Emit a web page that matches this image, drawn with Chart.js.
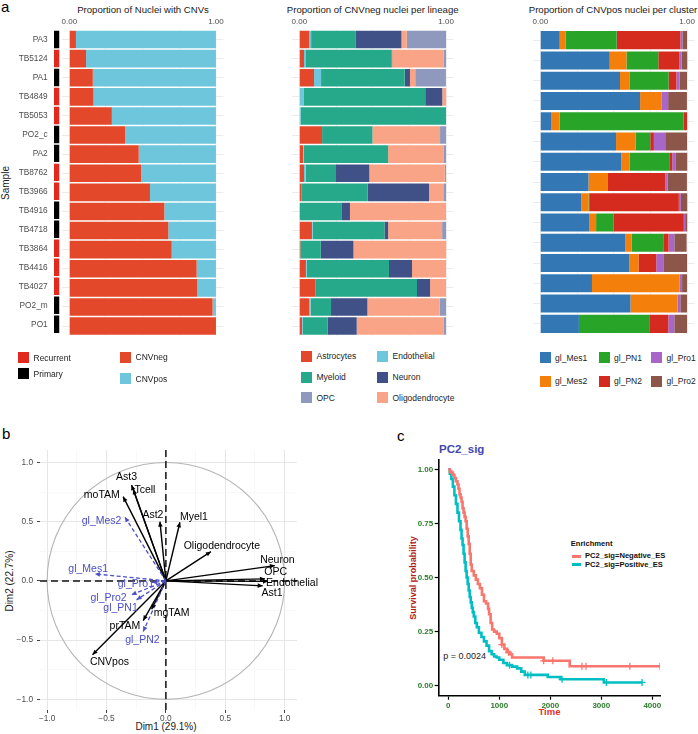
<!DOCTYPE html>
<html><head><meta charset="utf-8">
<script src="https://cdn.jsdelivr.net/npm/chart.js@4.4.1/dist/chart.umd.min.js"></script>
<style>
html,body{margin:0;padding:0;background:#fff;}
body{width:698px;height:734px;position:relative;overflow:hidden;font-family:"Liberation Sans",Arial,Helvetica,sans-serif;}
canvas{position:absolute;}
.t{position:absolute;white-space:nowrap;line-height:1;}
.sq{position:absolute;width:11px;height:11px;}
.ln{position:absolute;height:3px;}
</style></head><body>
<script>
// ================= DATA =================
// Panel a
const samples = ['PA3','TB5124','PA1','TB4849','TB5053','PO2_c','PA2','TB8762','TB3966','TB4916','TB4718','TB3864','TB4416','TB4027','PO2_m','PO1'];
const sampleType = ['Primary','Recurrent','Primary','Recurrent','Recurrent','Primary','Primary','Recurrent','Recurrent','Primary','Primary','Recurrent','Recurrent','Recurrent','Primary','Primary'];
const stripValue = [1,1,1,1,1,1,1,1,1,1,1,1,1,1,1,1];
const typeNames = ['Recurrent','Primary'];
const cnvNames = ['CNVneg','CNVpos'];
const cnvNeg = [0.045,0.114,0.160,0.165,0.290,0.380,0.473,0.489,0.550,0.648,0.675,0.698,0.868,0.873,0.977,1.000];
const cnvPos = [0.955,0.886,0.840,0.835,0.710,0.620,0.527,0.511,0.450,0.352,0.325,0.302,0.132,0.127,0.023,0.000];

const lineageNames = ['Astrocytes','Endothelial','Myeloid','Neuron','Oligodendrocyte','OPC'];
const astrocytes  = [0.066,0.032,0.100,0.003,0.000,0.155,0.025,0.032,0.014,0.000,0.086,0.007,0.045,0.109,0.068,0.018];
const endothelial = [0.014,0.009,0.048,0.025,0.009,0.000,0.004,0.011,0.000,0.000,0.005,0.000,0.005,0.000,0.009,0.006];
const myeloid     = [0.302,0.589,0.570,0.830,0.991,0.343,0.576,0.207,0.452,0.286,0.489,0.139,0.561,0.693,0.139,0.170];
const neuron      = [0.314,0.002,0.036,0.116,0.000,0.000,0.000,0.227,0.418,0.059,0.025,0.223,0.157,0.089,0.248,0.197];
const oligodendrocyte = [0.036,0.352,0.036,0.027,0.000,0.461,0.377,0.514,0.102,0.655,0.368,0.632,0.232,0.109,0.493,0.591];
const opc         = [0.268,0.016,0.209,0.000,0.000,0.041,0.018,0.009,0.014,0.000,0.027,0.000,0.000,0.000,0.043,0.018];

const clusterSamples = ['PA3','TB5124','PA1','TB4849','TB5053','PO2_c','PA2','TB8762','TB3966','TB4916','TB4718','TB3864','TB4416','TB4027','PO2_m'];
const clusterNames = ['gl_Mes1','gl_Mes2','gl_PN1','gl_PN2','gl_Pro1','gl_Pro2'];
const glMes1 = [0.132,0.473,0.543,0.680,0.073,0.516,0.552,0.328,0.278,0.335,0.580,0.607,0.352,0.614,0.263];
const glMes2 = [0.041,0.114,0.064,0.148,0.059,0.133,0.057,0.133,0.050,0.045,0.043,0.062,0.596,0.322,0.000];
const glPN1  = [0.347,0.217,0.267,0.000,0.845,0.100,0.274,0.000,0.005,0.118,0.219,0.000,0.000,0.000,0.479];
const glPN2  = [0.434,0.142,0.053,0.000,0.023,0.025,0.016,0.391,0.611,0.480,0.032,0.121,0.000,0.000,0.130];
const glPro1 = [0.014,0.016,0.023,0.043,0.000,0.077,0.025,0.016,0.014,0.009,0.039,0.048,0.018,0.018,0.041];
const glPro2 = [0.032,0.039,0.050,0.128,0.000,0.149,0.077,0.131,0.043,0.014,0.084,0.162,0.034,0.046,0.087];
const proportionTicks = [0, 0.25, 0.5, 0.75, 1];

// Panel b (PCA variable coordinates)
const activeVars = ['Ast3','Tcell','moTAM','Ast2','Myel1','Oligodendrocyte','Neuron','OPC','Endothelial','Ast1','mgTAM','prTAM','CNVpos'];
const activeDim1 = [-0.289,-0.275,-0.360,-0.050,0.118,0.379,0.918,0.834,0.860,0.815,-0.120,-0.191,-0.618];
const activeDim2 = [0.810,0.774,0.711,0.500,0.495,0.247,0.129,0.017,-0.004,-0.042,-0.239,-0.335,-0.624];
const suppVars = ['gl_Mes2','gl_Mes1','gl_Pro1','gl_Pro2','gl_PN1','gl_PN2'];
const suppDim1 = [-0.345,-0.598,-0.118,-0.289,-0.247,-0.191];
const suppDim2 = [0.538,0.059,-0.013,-0.118,-0.160,-0.428];
const dimTicks = [-1,-0.75,-0.5,-0.25,0,0.25,0.5,0.75,1];

// Panel c (Kaplan-Meier)
const groupNames = ['PC2_sig=Negative_ES','PC2_sig=Positive_ES'];
const negTime = [0,30,60,90,120,150,180,200,220,240,260,280,300,320,340,360,380,400,420,440,460,500,540,580,620,660,700,740,780,800,830,860,900,950,1000,1050,1100,1150,1200,1250,1870,2380,4150];
const negSurv = [1.0,0.99,0.985,0.975,0.96,0.945,0.93,0.91,0.885,0.87,0.85,0.82,0.80,0.78,0.76,0.725,0.69,0.655,0.61,0.56,0.53,0.51,0.49,0.47,0.45,0.42,0.39,0.38,0.355,0.33,0.29,0.26,0.25,0.24,0.22,0.19,0.17,0.155,0.145,0.13,0.115,0.09,0.09];
const posTime = [0,30,60,90,120,150,180,210,240,260,280,300,320,340,360,380,400,420,440,460,480,500,530,560,600,650,700,750,800,850,900,950,1000,1080,1150,1250,1350,1430,1500,1950,2200,3050,3800];
const posSurv = [1.0,0.98,0.955,0.92,0.88,0.84,0.80,0.76,0.72,0.68,0.65,0.61,0.57,0.53,0.50,0.47,0.44,0.41,0.385,0.36,0.34,0.32,0.29,0.27,0.245,0.225,0.205,0.185,0.16,0.145,0.135,0.13,0.12,0.105,0.095,0.088,0.08,0.065,0.05,0.04,0.03,0.015,0.015];
const negCensorTime = [1050,1180,1870,2050,2620,2700,3560,4150];
const negCensorSurv = [0.19,0.155,0.115,0.115,0.09,0.09,0.09,0.09];
const posCensorTime = [1200,1560,1620,2230,3100,3800];
const posCensorSurv = [0.095,0.05,0.05,0.03,0.015,0.015];
const timeTicks = [0,1000,2000,3000,4000];
const probTicks = [0,0.25,0.5,0.75,1];

// ================= STYLE =================
const FONT = '"Liberation Sans", Arial, Helvetica, sans-serif';
Chart.defaults.font.family = FONT;
Chart.defaults.animation = false;
const typeColors = {Recurrent:'#E3281E', Primary:'#000000'};
const cnvColors = ['#E4482B','#6EC6DC'];
const lineageColors = ['#E4482B','#6EC6DC','#26A98A','#3F5186','#F9A486','#8E99BD'];
const clusterColors = ['#3378B5','#F47F0A','#28A428','#D52B1E','#A866C9','#8C564B'];
const BLUE = '#4B4FC4';
const GREEN = '#2A7A2A';

// ================= HELPERS =================
function addCanvas(left, top, w, h) {
  const c = document.createElement('canvas');
  c.width = w; c.height = h;
  c.style.left = left + 'px'; c.style.top = top + 'px';
  c.style.width = w + 'px'; c.style.height = h + 'px';
  document.body.appendChild(c);
  return c;
}
function addText(str, x, y, o = {}) {
  const d = document.createElement('div');
  d.className = 't';
  d.textContent = str;
  d.style.left = x + 'px'; d.style.top = y + 'px';
  d.style.fontSize = (o.size || 9) + 'px';
  d.style.color = o.color || '#1A1A1A';
  if (o.bold) d.style.fontWeight = 'bold';
  const tx = o.align === 'center' ? '-50%' : (o.align === 'right' ? '-100%' : '0');
  let tr = 'translate(' + tx + ', -50%)';
  if (o.rotate) tr += ' rotate(' + o.rotate + 'deg)';
  d.style.transform = tr;
  document.body.appendChild(d);
}
function addSquare(x, y, color) {
  const d = document.createElement('div');
  d.className = 'sq';
  d.style.left = x + 'px'; d.style.top = y + 'px';
  d.style.background = color;
  document.body.appendChild(d);
}
function addLine(x, y, w, color) {
  const d = document.createElement('div');
  d.className = 'ln';
  d.style.left = x + 'px'; d.style.top = y + 'px'; d.style.width = w + 'px';
  d.style.background = color;
  document.body.appendChild(d);
}

function stackedBar(canvas, labels, names, series, colors, pad, barPct) {
  return new Chart(canvas, {
    type: 'bar',
    data: {
      labels: labels,
      datasets: names.map((n, i) => ({label: n, data: series[i], backgroundColor: colors[i], borderWidth: 0,
        barPercentage: barPct, categoryPercentage: 1}))
    },
    options: {
      indexAxis: 'y', responsive: false, animation: false, devicePixelRatio: 1,
      layout: {padding: pad},
      plugins: {legend: {display: false}, tooltip: {enabled: false}},
      scales: {
        x: {type: 'linear', position: 'top', min: -0.05, max: 1.05, stacked: true,
          afterBuildTicks: s => { s.ticks = proportionTicks.map(v => ({value: v})); },
          afterFit: s => { s.height = 30; },
          border: {display: false},
          grid: {color: '#EEEEEE', drawTicks: false, lineWidth: 0.8},
          ticks: {padding: 3, color: '#4D4D4D', font: {size: 8}, autoSkip: false, maxRotation: 0,
            callback: v => (v === 0 || v === 1) ? v.toFixed(2) : ''}},
        y: {type: 'category', stacked: true, offset: true,
          afterFit: s => { s.width = 0; },
          border: {display: false},
          grid: {color: '#EBEBEB', offset: false, drawTicks: false},
          ticks: {display: false}}
      }
    }
  });
}

// ================= PANEL a =================
addText('a', 1, 6, {size: 15, color: '#000'});
addText('Proportion of Nuclei with CNVs', 143, 10, {align: 'center', size: 9.6});
addText('Proportion of CNVneg nuclei per lineage', 372.7, 10, {align: 'center', size: 9.6});
addText('Proportion of CNVpos nuclei per cluster', 613, 10, {align: 'center', size: 9.6});
addText('Sample', 6, 183, {align: 'center', size: 10, rotate: -90});

// strip with sample labels
new Chart(addCanvas(0, 0, 60, 345), {
  type: 'bar',
  data: {labels: samples, datasets: [{data: stripValue, backgroundColor: sampleType.map(t => typeColors[t]),
    borderWidth: 0, barPercentage: 0.92, categoryPercentage: 1}]},
  options: {
    indexAxis: 'y', responsive: false, animation: false, devicePixelRatio: 1,
    layout: {padding: {top: 30, bottom: 9.4, right: 0.5, left: 0}},
    plugins: {legend: {display: false}, tooltip: {enabled: false}},
    scales: {
      x: {display: false, min: 0, max: 1},
      y: {afterFit: s => { s.width = 54; }, border: {display: false}, grid: {display: false, drawTicks: false},
        ticks: {padding: 6.3, color: '#4D4D4D', font: {size: 8.3}, autoSkip: false}}
    }
  }
});

stackedBar(addCanvas(42, 0, 200, 345), samples, cnvNames, [cnvNeg, cnvPos], cnvColors,
  {left: 20, right: 18.7, top: 0, bottom: 9.4}, 0.92);
stackedBar(addCanvas(272, 0, 202, 345), samples, lineageNames,
  [astrocytes, endothelial, myeloid, neuron, oligodendrocyte, opc], lineageColors,
  {left: 20, right: 20.6, top: 0, bottom: 9.4}, 0.92);
stackedBar(addCanvas(512.6, 0, 185.4, 345), clusterSamples, clusterNames,
  [glMes1, glMes2, glPN1, glPN2, glPro1, glPro2], clusterColors,
  {left: 20, right: 3.3, top: 0, bottom: 11}, 0.89);

// legends panel a
const legA = [
  [typeNames[0], typeColors.Recurrent, 18, 352], [typeNames[1], typeColors.Primary, 18, 368],
  [cnvNames[0], cnvColors[0], 120, 351.5], [cnvNames[1], cnvColors[1], 120, 373],
  [lineageNames[0], lineageColors[0], 301, 350.5], [lineageNames[1], lineageColors[1], 377, 350.5],
  [lineageNames[2], lineageColors[2], 301, 371.5], [lineageNames[3], lineageColors[3], 377, 371.5],
  [lineageNames[5], lineageColors[5], 301, 392], [lineageNames[4], lineageColors[4], 377, 392],
  [clusterNames[0], clusterColors[0], 539.6, 352], [clusterNames[2], clusterColors[2], 598.6, 352], [clusterNames[4], clusterColors[4], 651, 352],
  [clusterNames[1], clusterColors[1], 539.6, 375.5], [clusterNames[3], clusterColors[3], 598.6, 375.5], [clusterNames[5], clusterColors[5], 651, 375.5]
];
legA.forEach(([name, col, x, y]) => { addSquare(x, y, col); addText(name, x + 15.5, y + 5.7, {size: 8.5, color: '#222'}); });

// ================= PANEL b =================
addText('b', 2, 433, {size: 15, color: '#000'});
addText('Dim1 (29.1%)', 166, 727, {align: 'center', size: 10});
addText('Dim2 (22.7%)', 9.5, 581, {align: 'center', size: 10, rotate: -90});

// label offsets (px) relative to arrow tips
const activeLabelOffset = [[-5,-7.7],[11.7,1.4],[-21.3,-1.7],[-7,-6.7],[14,-5.6],[11,-6],[2.5,-5.7],[10.8,-6.7],[24,1.8],[9.3,7.3],[20,4],[-18.3,6],[17,7.7]];
const suppLabelOffset = [[-23.3,4.4],[-6.7,-4.7],[-16,1.5],[-23,3.3],[-16,8.3],[-0.8,8.3]];

const pcaSets = [];
suppVars.forEach((n, i) => pcaSets.push({label: n, data: [{x: 0, y: 0}, {x: suppDim1[i], y: suppDim2[i]}],
  showLine: true, borderColor: BLUE, borderWidth: 1.3, borderDash: [4, 2.5], pointRadius: 0,
  ldx: suppLabelOffset[i][0], ldy: suppLabelOffset[i][1], labelColor: BLUE}));
activeVars.forEach((n, i) => pcaSets.push({label: n, data: [{x: 0, y: 0}, {x: activeDim1[i], y: activeDim2[i]}],
  showLine: true, borderColor: '#000', borderWidth: 1.4, pointRadius: 0,
  ldx: activeLabelOffset[i][0], ldy: activeLabelOffset[i][1], labelColor: '#000'}));

const isMajor = v => Math.abs(v * 2 - Math.round(v * 2)) < 1e-6;
const fmtDim = v => (v < 0 ? '\u2212' : '') + Math.abs(v).toFixed(1);

const pcaPlugin = {
  id: 'pcaDecor',
  beforeDatasetsDraw(chart) {
    const {ctx, chartArea: a, scales: {x, y}} = chart;
    ctx.save();
    const cx = x.getPixelForValue(0), cy = y.getPixelForValue(0);
    const rx = x.getPixelForValue(1) - cx, ry = cy - y.getPixelForValue(1);
    ctx.strokeStyle = '#B5B5B5'; ctx.lineWidth = 1.1;
    ctx.beginPath(); ctx.ellipse(cx, cy, rx, ry, 0, 0, Math.PI * 2); ctx.stroke();
    ctx.strokeStyle = '#111'; ctx.lineWidth = 1.5; ctx.setLineDash([7, 4]);
    ctx.beginPath(); ctx.moveTo(a.left, cy); ctx.lineTo(a.right, cy);
    ctx.moveTo(cx, a.top); ctx.lineTo(cx, a.bottom); ctx.stroke();
    ctx.restore();
  },
  afterDatasetsDraw(chart) {
    const {ctx} = chart;
    chart.data.datasets.forEach((ds, i) => {
      const pts = chart.getDatasetMeta(i).data;
      const p0 = pts[0], p1 = pts[1];
      const ang = Math.atan2(p1.y - p0.y, p1.x - p0.x);
      ctx.save();
      ctx.fillStyle = ds.borderColor;
      ctx.translate(p1.x, p1.y); ctx.rotate(ang);
      ctx.beginPath(); ctx.moveTo(0, 0); ctx.lineTo(-5, -2.3); ctx.lineTo(-5, 2.3); ctx.closePath(); ctx.fill();
      ctx.restore();
    });
    chart.data.datasets.forEach((ds, i) => {
      const p1 = chart.getDatasetMeta(i).data[1];
      ctx.save();
      ctx.font = '10.5px ' + FONT; ctx.fillStyle = ds.labelColor;
      ctx.textAlign = 'center'; ctx.textBaseline = 'middle';
      ctx.fillText(ds.label, p1.x + ds.ldx, p1.y + ds.ldy);
      ctx.restore();
    });
  }
};

function dimAxis(min, max, isX) {
  return {
    type: 'linear', min: min, max: max,
    afterBuildTicks: s => { s.ticks = dimTicks.map(v => ({value: v})); },
    afterFit: s => { if (isX) s.height = 24; else s.width = 40; },
    border: {display: false},
    grid: {color: c => isMajor(c.tick.value) ? '#E6E6E6' : '#F3F3F3',
      lineWidth: c => isMajor(c.tick.value) ? 1 : 0.6,
      tickColor: c => isMajor(c.tick.value) ? '#444' : 'rgba(0,0,0,0)', tickLength: 3},
    ticks: {color: '#4D4D4D', font: {size: 8.3}, padding: isX ? 1 : 4, autoSkip: false, maxRotation: 0,
      callback: v => isMajor(v) ? fmtDim(v) : ''}
  };
}

new Chart(addCanvas(0, 440, 320, 294), {
  type: 'scatter',
  data: {datasets: pcaSets},
  options: {
    responsive: false, animation: false, devicePixelRatio: 1,
    layout: {padding: {top: 10, right: 23, left: 0, bottom: 0}},
    plugins: {legend: {display: false}, tooltip: {enabled: false}},
    scales: {x: dimAxis(-1.06, 1.104, true), y: dimAxis(-1.09, 1.105, false)}
  },
  plugins: [pcaPlugin]
});

// ================= PANEL c =================
addText('c', 397, 435, {size: 15, color: '#000'});
addText('PC2_sig', 439, 449.5, {size: 11.5, bold: true, color: '#4347AE'});
addText('Time', 549.5, 712, {align: 'center', size: 9.5, bold: true, color: '#E5302A'});
addText('Survival probability', 413.3, 577.5, {align: 'center', size: 9, bold: true, color: '#B02020', rotate: -90});
addText('p = 0.0024', 443.3, 656, {size: 9, color: '#222'});
addText('Enrichment', 570.7, 544, {size: 7.6, bold: true, color: '#111'});
addLine(571.7, 554.5, 9, '#F8766D');
addLine(571.7, 563.2, 9, '#00BFC4');
addText(groupNames[0], 585, 556, {size: 7.6, bold: true, color: '#111'});
addText(groupNames[1], 585, 564.7, {size: 7.6, bold: true, color: '#111'});

const toPts = (t, s) => t.map((v, i) => ({x: v, y: s[i]}));
function survAxis(min, max, ticks, isX, fmt) {
  return {
    type: 'linear', min: min, max: max,
    afterBuildTicks: s => { s.ticks = ticks.map(v => ({value: v})); },
    afterFit: s => { if (isX) s.height = 38.3; else s.width = 58.7; },
    border: {display: true, color: '#000', width: 1.6},
    grid: {drawOnChartArea: false, drawTicks: true, tickLength: 4, tickColor: '#000', tickWidth: 1.2},
    ticks: {color: GREEN, font: {size: 8, weight: 'bold'}, padding: isX ? 1 : 1.5, autoSkip: false, maxRotation: 0,
      callback: fmt}
  };
}

new Chart(addCanvas(380, 440, 318, 294), {
  type: 'line',
  data: {datasets: [
    {label: groupNames[0], data: toPts(negTime, negSurv), borderColor: '#F8766D', borderWidth: 2.6, stepped: 'before', pointRadius: 0, fill: false},
    {label: groupNames[1], data: toPts(posTime, posSurv), borderColor: '#00BFC4', borderWidth: 2.6, stepped: 'before', pointRadius: 0, fill: false},
    {label: 'censorNeg', data: toPts(negCensorTime, negCensorSurv), showLine: false, pointStyle: 'cross', pointRadius: 3.5, borderColor: '#F8766D', borderWidth: 1.3},
    {label: 'censorPos', data: toPts(posCensorTime, posCensorSurv), showLine: false, pointStyle: 'cross', pointRadius: 3.5, borderColor: '#00BFC4', borderWidth: 1.3}
  ]},
  options: {
    responsive: false, animation: false, devicePixelRatio: 1,
    layout: {padding: {top: 19.3, right: 38, left: 0, bottom: 0}},
    plugins: {legend: {display: false}, tooltip: {enabled: false}},
    scales: {
      x: survAxis(-188, 4151, timeTicks, true, v => String(v)),
      y: survAxis(-0.0462, 1.0462, probTicks, false, v => v.toFixed(2))
    }
  }
});
</script>
</body></html>
